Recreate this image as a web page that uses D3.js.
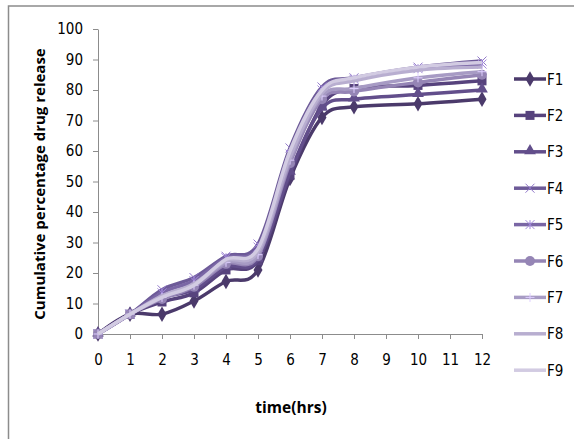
<!DOCTYPE html>
<html>
<head>
<meta charset="utf-8">
<script src="https://cdn.jsdelivr.net/npm/d3@7"></script>
<style>
  body { margin: 0; background: #fff; }
  text { font-family: "DejaVu Sans Condensed", "DejaVu Sans", sans-serif; font-stretch: condensed; }
  text.title { font-family: "Open Sans", sans-serif; font-stretch: normal; font-weight: bold; }
</style>
</head>
<body>
<div id="container"></div>
<script>
var times = [0, 1, 2, 3, 4, 5, 6, 7, 8, 10, 12];
var xTicks = [0, 1, 2, 3, 4, 5, 6, 7, 8, 9, 10, 11, 12];
var yTicks = [0, 10, 20, 30, 40, 50, 60, 70, 80, 90, 100];
var seriesNames = ['F1', 'F2', 'F3', 'F4', 'F5', 'F6', 'F7', 'F8', 'F9'];
var F1 = [0, 6.5, 6.5, 10.8, 17.2, 21, 51, 71, 74.5, 75.5, 77];
var F2 = [0, 6.5, 10.5, 13.5, 21, 24, 52, 75, 80.5, 81.5, 83];
var F3 = [0, 6.5, 12, 14.5, 22, 24.5, 53, 74, 77, 78.5, 80];
var F4 = [0, 6.5, 14.5, 18.5, 25.5, 29.5, 61, 81, 84, 87.5, 89.5];
var F5 = [0, 6.5, 13.5, 17.5, 25, 28.5, 59, 80, 83.5, 87, 88.5];
var F6 = [0, 6.5, 11.5, 15.5, 23, 25.5, 56, 77, 79.5, 82.5, 85];
var F7 = [0, 6.5, 12, 16, 23.5, 26, 57, 78, 80.5, 84, 86];
var F8 = [0, 6.5, 12.5, 16.5, 24, 27, 58, 79, 83, 86.5, 87.5];
var F9 = [0, 6.5, 12, 16, 24.5, 28, 60, 80, 84, 87.5, 89];
var seriesValues = [F1, F2, F3, F4, F5, F6, F7, F8, F9];
var colors = ['#4b3a6b', '#57437d', '#624e8b', '#6d5a98', '#7a66a5', '#9585b5', '#a79bc4', '#b8aed0', '#d2cbe2'];
var markers = ['diamond', 'square', 'triangle', 'x', 'star', 'circle', 'plus', 'none', 'none'];

var width = 574, height = 439;
var svg = d3.select('#container').append('svg')
	.attr('width', width)
	.attr('height', height);

// outer frame
svg.append('rect')
	.attr('x', 8.5).attr('y', 6)
	.attr('width', 700).attr('height', 600)
	.attr('fill', 'none')
	.attr('stroke', '#8c8c8c')
	.attr('stroke-width', 1.5);

var x = d3.scaleLinear().domain([0, 12]).range([98, 482]);
var y = d3.scaleLinear().domain([0, 100]).range([334, 29]);

var xAxis = svg.append('g')
	.attr('transform', 'translate(0,334)')
	.call(d3.axisBottom(x).tickValues(xTicks).tickSize(5).tickPadding(15).tickSizeOuter(0));
var yAxis = svg.append('g')
	.attr('transform', 'translate(98,0)')
	.call(d3.axisLeft(y).tickValues(yTicks).tickSize(5).tickPadding(10).tickSizeOuter(0));

[xAxis, yAxis].forEach(function(a) {
	a.select('.domain').attr('stroke', '#8c8c8c');
	a.selectAll('.tick line').attr('stroke', '#8c8c8c');
	a.selectAll('.tick text')
		.attr('fill', '#000')
		.style('font-size', '15px')
		.style('font-family', '"DejaVu Sans Condensed", "DejaVu Sans", sans-serif');
});

svg.append('text')
	.attr('class', 'title')
	.attr('transform', 'translate(45,184) rotate(-90)')
	.attr('text-anchor', 'middle')
	.style('font-size', '15px')
	.text('Cumulative percentage drug release');

svg.append('text')
	.attr('class', 'title')
	.attr('x', 291).attr('y', 413)
	.attr('text-anchor', 'middle')
	.style('font-size', '15.5px')
	.text('time(hrs)');

var line = d3.line()
	.x((d) => x(d[0]))
	.y((d) => y(d[1]))
	.curve(d3.curveCardinal.tension(0));

function drawMarker(g, type, cx, cy, color) {
	var s = 4.5;
	if (type === 'diamond') {
		g.append('path').attr('d', d3.symbol(d3.symbolDiamond, 70)()).attr('transform', 'translate(' + cx + ',' + cy + ')').attr('fill', color);
	} else if (type === 'square') {
		g.append('rect').attr('x', cx - s).attr('y', cy - s).attr('width', 2 * s).attr('height', 2 * s).attr('fill', color);
	} else if (type === 'triangle') {
		g.append('path').attr('d', d3.symbol(d3.symbolTriangle, 60)()).attr('transform', 'translate(' + cx + ',' + (cy - 1) + ')').attr('fill', color);
	} else if (type === 'circle') {
		g.append('circle').attr('cx', cx).attr('cy', cy).attr('r', 5).attr('fill', color);
	} else if (type === 'x') {
		g.append('path').attr('d', 'M' + (cx - s) + ',' + (cy - s) + 'L' + (cx + s) + ',' + (cy + s) + 'M' + (cx - s) + ',' + (cy + s) + 'L' + (cx + s) + ',' + (cy - s))
			.attr('stroke', color).attr('stroke-width', 1);
	} else if (type === 'star') {
		g.append('path').attr('d', 'M' + (cx - s) + ',' + (cy - s) + 'L' + (cx + s) + ',' + (cy + s) + 'M' + (cx - s) + ',' + (cy + s) + 'L' + (cx + s) + ',' + (cy - s) + 'M' + cx + ',' + (cy - s) + 'L' + cx + ',' + (cy + s))
			.attr('stroke', color).attr('stroke-width', 1);
	} else if (type === 'plus') {
		g.append('path').attr('d', 'M' + (cx - s) + ',' + cy + 'L' + (cx + s) + ',' + cy + 'M' + cx + ',' + (cy - s) + 'L' + cx + ',' + (cy + s))
			.attr('stroke', color).attr('stroke-width', 1);
	}
}

var markerColor = function(i) {
	return (markers[i] === 'x' || markers[i] === 'star' || markers[i] === 'plus') ? d3.color(colors[i]).brighter(0.8) : colors[i];
};

seriesValues.forEach(function(vals, i) {
	var pts = times.map((t, k) => [t, vals[k]]);
	var g = svg.append('g');
	g.append('path')
		.attr('d', line(pts))
		.attr('fill', 'none')
		.attr('stroke', colors[i])
		.attr('stroke-width', 3.5)
		.attr('stroke-linejoin', 'round');
	pts.forEach(function(p) {
		drawMarker(g, markers[i], x(p[0]), y(p[1]), markerColor(i));
	});
});

// legend
var legend = svg.append('g');
seriesNames.forEach(function(name, i) {
	var ly = 79 + i * 36.4;
	var g = legend.append('g');
	g.append('line')
		.attr('x1', 514).attr('x2', 546)
		.attr('y1', ly).attr('y2', ly)
		.attr('stroke', colors[i]).attr('stroke-width', 3.5);
	drawMarker(g, markers[i], 530, ly, markerColor(i));
	g.append('text')
		.attr('x', 547).attr('y', ly + 5.5)
		.style('font-size', '15px')
		.text(name);
});
</script>
</body>
</html>
